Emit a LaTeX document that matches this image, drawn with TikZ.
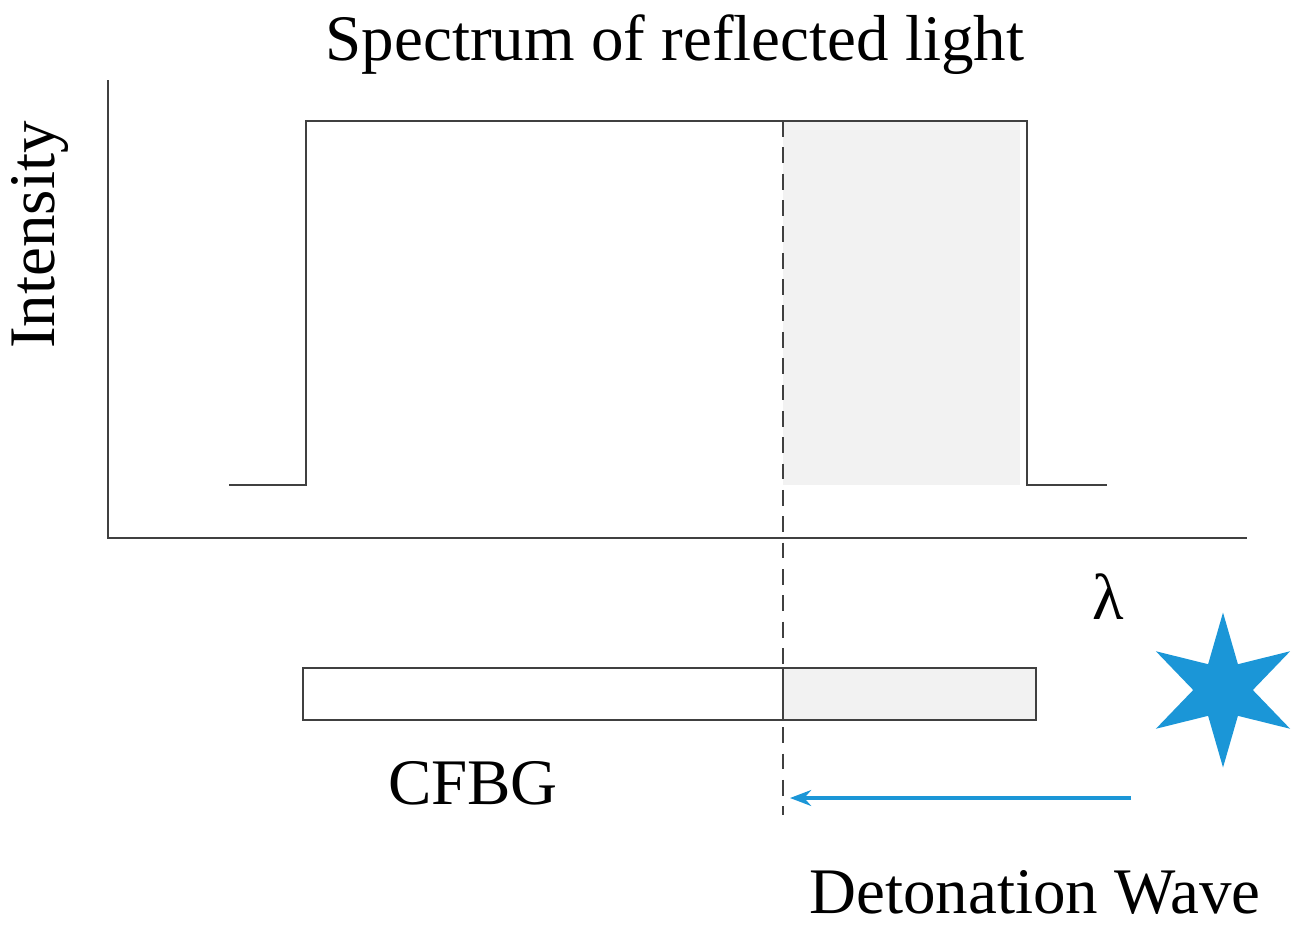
\documentclass[tikz,border=0pt]{standalone}
\usepackage{fontspec}
\setmainfont{Liberation Serif}
\usetikzlibrary{arrows.meta, positioning, shapes.geometric}
\definecolor{blastblue}{RGB}{27,150,215}
\definecolor{specgray}{RGB}{242,242,242}
\begin{document}
\begin{tikzpicture}[
    x=0.02cm, y=-0.02cm,
    line/.style={line width=1.3pt, draw=black!75},
    label/.style={font=\fontsize{37}{42}\selectfont, inner sep=0pt},
    arrow/.style={-{Stealth[length=12pt,width=9pt]}, line width=2.2pt, blastblue}
]
\useasboundingbox (0,0) rectangle (1307,934);

% --- Spectrum ---
\fill[specgray] (783,121) rectangle (1020,485);
\draw[line] (229,485) -- (306,485) -- (306,121) -- (1027,121) -- (1027,485) -- (1107,485);
\draw[line] (108,80) -- (108,538) -- (1247,538);
\node[label] (title) at (675,45) {Spectrum of reflected light};
\node[label, rotate=90] (inten) at (40,235) {Intensity};
\node[label] (lambda) at (1108,597) {λ};

% --- Grating ---
\fill[specgray] (783,668) rectangle (1036,720);
\draw[line] (303,668) rectangle (1036,720);
\draw[line] (783,668) -- (783,720);
\node[label] (cfbg) at (473,783) {CFBG};

% --- Front ---
\draw[line, dashed, dash pattern=on 9pt off 6pt] (783,121) -- (783,815);
\node[star, star points=6, star point ratio=2.6, minimum size=3.1cm,
      fill=blastblue, rotate=0, inner sep=0pt] (blast) at (1223,690) {};
\coordinate (wstart) at (1131,798);
\coordinate (wend) at (790,798);
\draw[arrow] (wstart) -- (wend);
\node[label] (wave) at (1035,892) {Detonation Wave};

\end{tikzpicture}
\end{document}
